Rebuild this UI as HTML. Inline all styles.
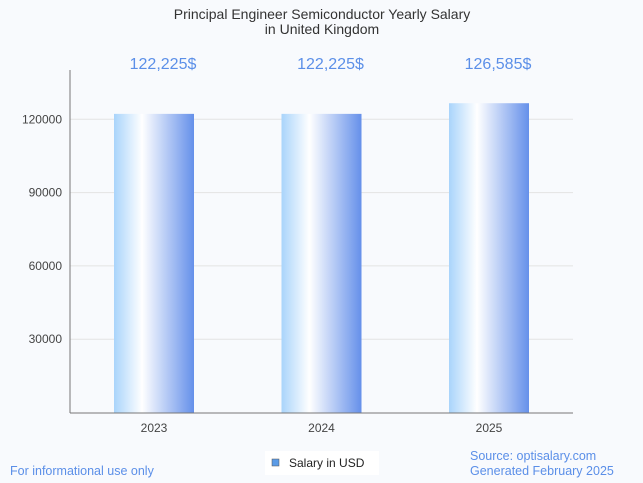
<!DOCTYPE html>
<html><head><meta charset="utf-8"><style>
body{margin:0;background:#f8fafd;font-family:"Liberation Sans",sans-serif;}
svg{display:block}
</style></head><body>
<svg width="643" height="483">
<defs><linearGradient id="g" x1="0" x2="1" y1="0" y2="0">
<stop offset="0" stop-color="#a9d4fb"/><stop offset="0.35" stop-color="#ffffff"/><stop offset="1" stop-color="#6590ea"/>
</linearGradient></defs>
<text x="322" y="19" text-anchor="middle" font-size="14" fill="#333">Principal Engineer Semiconductor Yearly Salary</text>
<text x="322" y="34" text-anchor="middle" font-size="14" fill="#333">in United Kingdom</text>
<g id="grid"></g><g id="bars"></g>
<line x1="70" y1="70" x2="70" y2="413" stroke="#777"/>
<line x1="70" y1="413" x2="573" y2="413" stroke="#777"/>
<text x="10" y="475" font-size="12.5" fill="#5b8fe8">For informational use only</text>
<rect x="265" y="451" width="114" height="24" fill="#fff"/>
<rect x="272" y="459" width="7" height="7" fill="#5b9be6" stroke="#555" stroke-width="0.5"/>
<text x="289" y="467" font-size="12" fill="#222">Salary in USD</text>
<text x="470" y="460" font-size="12.5" fill="#5b8fe8">Source: optisalary.com</text>
<text x="470" y="475" font-size="12.5" fill="#5b8fe8">Generated February 2025</text>
</svg>
<script>
const categories=["2023","2024","2025"];
const values=[122225,122225,126585];
const valueLabels=["122,225$","122,225$","126,585$"];
const yTicks=[30000,60000,90000,120000];
const NS="http://www.w3.org/2000/svg";
const y=v=>412.5-v*(73.3/30000);
const x=i=>154+i*167.5;
function mk(t,a,p){const e=document.createElementNS(NS,t);for(const k in a)e.setAttribute(k,a[k]);p.appendChild(e);return e;}
const grid=document.getElementById('grid'),bars=document.getElementById('bars');
yTicks.forEach(v=>{
 const l=mk('line',{x1:70,x2:573,y1:y(v),y2:y(v),stroke:'#e3e3e3'},grid);
 
 
 const t=mk('text',{x:62,y:y(v)+4,'text-anchor':'end','font-size':12,fill:'#444'},grid);
 t.textContent=v;
 
 
});
categories.forEach((c,i)=>{
 const r=mk('rect',{x:x(i)-40,width:80,y:y(values[i]),height:412.5-y(values[i]),fill:'url(#g)'},bars);
 
 
 const t=mk('text',{x:x(i),y:432,'text-anchor':'middle','font-size':12,fill:'#444'},bars);
 t.textContent=c;
 
 
 const v=mk('text',{x:x(i)+9,y:69,'text-anchor':'middle','font-size':16,fill:'#5b8fe8'},bars);
 v.textContent=valueLabels[i];
 
 
});
</script>
</body></html>
